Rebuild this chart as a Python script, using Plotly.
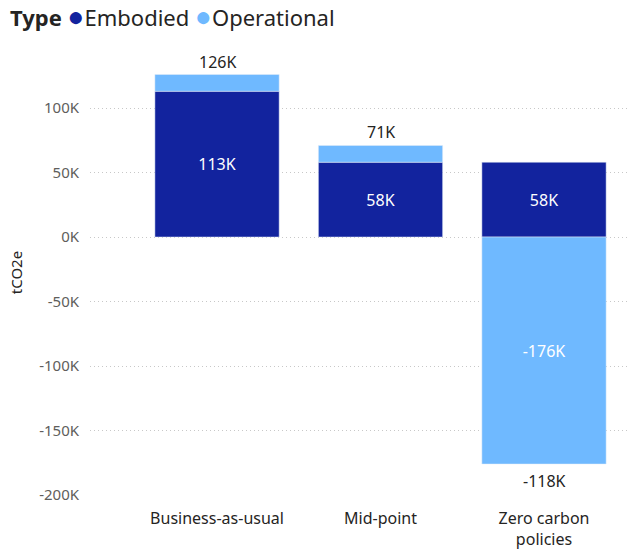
import plotly.graph_objects as go

# data (tCO2e)
scenarios = ["Business-as-usual", "Mid-point", "Zero carbon<br>policies"]
embodied = [113000, 58000, 58000]
operational = [13000, 13000, -176000]

tick_vals = [-200000, -150000, -100000, -50000, 0, 50000, 100000]
tick_text = ["-200K", "-150K", "-100K", "-50K", "0K", "50K", "100K"]

EMB_COLOR = "#12239E"
OPS_COLOR = "#6FB9FF"
FONT = "Segoe UI, Noto Sans, sans-serif"


def k_label(v):
    return f"{round(v / 1000)}K"


def inside_labels(vals):
    # small segments get no label, like Power BI does
    return [k_label(v) if abs(v) > 20000 else "" for v in vals]


totals = [e + o for e, o in zip(embodied, operational)]
pos_top = [sum(v for v in (e, o) if v > 0) for e, o in zip(embodied, operational)]
neg_bot = [sum(v for v in (e, o) if v < 0) for e, o in zip(embodied, operational)]

fig = go.Figure()
fig.add_bar(
    x=scenarios, y=embodied, name="Embodied", marker_color=EMB_COLOR,
    text=inside_labels(embodied), textposition="inside", insidetextanchor="middle",
    textfont=dict(color="white", size=16, family=FONT), showlegend=False,
)
fig.add_bar(
    x=scenarios, y=operational, name="Operational", marker_color=OPS_COLOR,
    text=inside_labels(operational), textposition="inside", insidetextanchor="middle",
    textfont=dict(color="white", size=16, family=FONT), showlegend=False,
)

# totals above (positive) or below (negative) each stack
for cat, t, p, n in zip(scenarios, totals, pos_top, neg_bot):
    above = t >= 0
    fig.add_annotation(
        x=cat, y=p if above else n, text=k_label(t), showarrow=False,
        yanchor="bottom" if above else "top", yshift=0 if above else -4,
        font=dict(size=16, color="#252423", family=FONT),
    )

# legend drawn as a header line, Power BI style
dot = "<span style='color:{};font-size:28px'>●</span>"
legend_txt = (
    "<b>Type</b> " + dot.format(EMB_COLOR) + "Embodied " + dot.format(OPS_COLOR) + "Operational"
)
fig.add_annotation(
    text=legend_txt, xref="paper", yref="paper", x=-0.152, y=1.079,
    xanchor="left", yanchor="middle", showarrow=False,
    font=dict(size=22, color="#252423", family=FONT),
)

fig.update_layout(
    width=641, height=552,
    barmode="relative", bargap=0.24,
    plot_bgcolor="white", paper_bgcolor="white",
    font=dict(family=FONT, color="#252423"),
    showlegend=False,
    margin=dict(l=90, r=11, t=50, b=57, autoexpand=False),
    xaxis=dict(
        range=[-0.777, 2.526], showgrid=False, zeroline=False,
        tickfont=dict(size=16, color="#252423"), ticks="", automargin=False,
        ticklabelstandoff=12,
    ),
    yaxis=dict(
        range=[-200000, 145000], tickvals=tick_vals, ticktext=tick_text,
        tickfont=dict(size=15, color="#605E5C"), automargin=False,
        showgrid=True, gridcolor="#C8C8C8", griddash="1px,3px", gridwidth=1,
        zeroline=False, ticklabelstandoff=10,
        title=dict(text="tCO2e", font=dict(size=15, color="#252423"), standoff=12),
    ),
)

# drop the default page margin so the figure sits at the window corner
fig.write_html(
    "out.html",
    config={"displayModeBar": False},
    post_script="document.body.style.margin='0';",
)
